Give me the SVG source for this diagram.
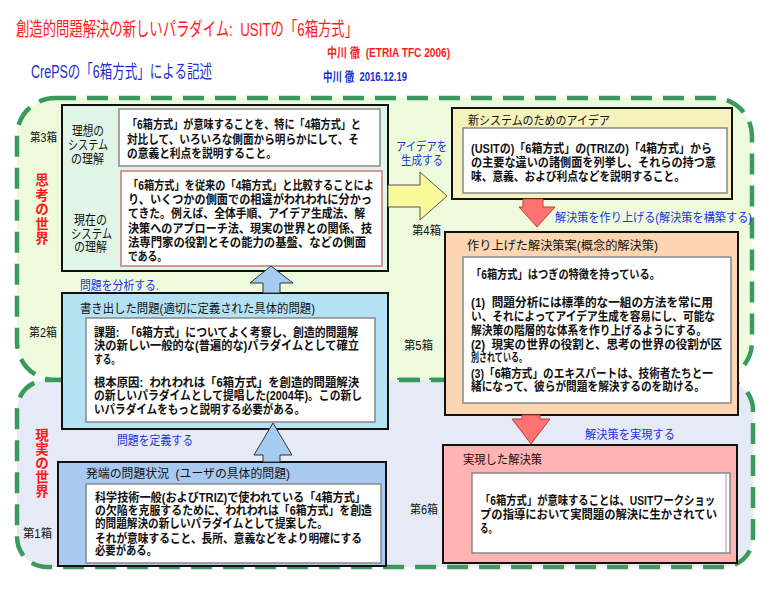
<svg xmlns="http://www.w3.org/2000/svg" width="771" height="589" viewBox="0 0 771 589">
<style>
text { font-family: "Liberation Sans", "Noto Sans CJK JP", sans-serif; }
.b { font-size:12.5px; font-weight:bold; fill:#111; }
.t { font-size:12px; fill:#111; }
.lab { font-size:13px; fill:#111; }
.no { font-size:12px; fill:#111; }
.cl { font-size:12px; fill:#2233dd; }
.world { font-size:13.5px; font-weight:bold; fill:#ff1a1a; text-anchor:middle; }
.region { stroke:#3a9a5c; stroke-width:4.5; stroke-dasharray:21 11; }
.box { stroke:#111; stroke-width:2; }
.inner { fill:#fff; stroke:#888; stroke-width:1.5; }
.arrow { stroke-width:1; }
</style>
<rect width="771" height="589" fill="#fff"/>
<g id="header">
<text x="16" y="36" font-size="19" fill="#ff1a1a" textLength="342" lengthAdjust="spacingAndGlyphs" xml:space="preserve">創造的問題解決の新しいパラダイム:  USITの「6箱方式」</text>
<text x="327" y="57" font-size="13" font-weight="bold" fill="#ff1a1a" textLength="123" lengthAdjust="spacingAndGlyphs" xml:space="preserve">中川 徹  (ETRIA TFC 2006)</text>
<text x="31" y="78" font-size="18" fill="#1a2ecc" textLength="181" lengthAdjust="spacingAndGlyphs">CrePSの「6箱方式」による記述</text>
<text x="323" y="81" font-size="13" font-weight="bold" fill="#1a2ecc" textLength="84" lengthAdjust="spacingAndGlyphs" xml:space="preserve">中川 徹  2016.12.19</text>
</g>
<g id="regions">
<rect id="thinking-world" class="region" x="17" y="98" width="735" height="282" rx="38" fill="#eefadc"/>
<rect id="real-world" class="region" x="17" y="380" width="736" height="187" rx="30" fill="#e5eaf6"/>
<g class="world">
<text x="42" y="185">思</text>
<text x="42" y="199.5">考</text>
<text x="42" y="214">の</text>
<text x="42" y="228.5">世</text>
<text x="42" y="243">界</text>
<text x="42" y="440">現</text>
<text x="42" y="454">実</text>
<text x="42" y="468">の</text>
<text x="42" y="482">世</text>
<text x="42" y="496">界</text>
</g>
</g>
<g id="box3">
<rect class="box" x="62" y="105" width="326" height="166" fill="#e0f5e5"/>
<text class="no" x="30" y="141.5" textLength="27" lengthAdjust="spacingAndGlyphs">第3箱</text>
<text class="lab" x="72" y="134.5" textLength="32" lengthAdjust="spacingAndGlyphs">理想の</text>
<text class="lab" x="68" y="148.5" textLength="40" lengthAdjust="spacingAndGlyphs">システム</text>
<text class="lab" x="71" y="162.5" textLength="33" lengthAdjust="spacingAndGlyphs">の理解</text>
<text class="lab" x="74" y="223.5" textLength="33" lengthAdjust="spacingAndGlyphs">現在の</text>
<text class="lab" x="71" y="237.5" textLength="41" lengthAdjust="spacingAndGlyphs">システム</text>
<text class="lab" x="74" y="251" textLength="33" lengthAdjust="spacingAndGlyphs">の理解</text>
<rect class="inner" x="119" y="109" width="261" height="57"/>
<text class="b" x="127" y="129" textLength="234" lengthAdjust="spacingAndGlyphs">「6箱方式」が意味することを、特に「4箱方式」と</text>
<text class="b" x="127" y="144" textLength="232" lengthAdjust="spacingAndGlyphs">対比して、いろいろな側面から明らかにして、そ</text>
<text class="b" x="127" y="158" textLength="150" lengthAdjust="spacingAndGlyphs">の意義と利点を説明すること。</text>
<rect class="inner" x="121" y="171" width="261" height="95" style="stroke:#cc7777"/>
<text class="b" x="128" y="190" textLength="246" lengthAdjust="spacingAndGlyphs">「6箱方式」を従来の「4箱方式」と比較することによ</text>
<text class="b" x="128" y="204" textLength="244" lengthAdjust="spacingAndGlyphs">り、いくつかの側面での相違がわれわれに分かっ</text>
<text class="b" x="128" y="218" textLength="237" lengthAdjust="spacingAndGlyphs">てきた。例えば、全体手順、アイデア生成法、解</text>
<text class="b" x="128" y="232.5" textLength="244" lengthAdjust="spacingAndGlyphs">決策へのアプローチ法、現実の世界との関係、技</text>
<text class="b" x="128" y="246.5" textLength="238" lengthAdjust="spacingAndGlyphs">法専門家の役割とその能力の基盤、などの側面</text>
<text class="b" x="128" y="261" textLength="39" lengthAdjust="spacingAndGlyphs">である。</text>
</g>
<g id="box4">
<rect class="box" x="452" y="108" width="280" height="91" fill="#f6f2bb"/>
<text class="t" x="468" y="124.5" textLength="142" lengthAdjust="spacingAndGlyphs">新システムのためのアイデア</text>
<rect class="inner" x="463" y="128" width="264" height="65"/>
<text class="b" x="471" y="152.7" textLength="241" lengthAdjust="spacingAndGlyphs">(USITの)「6箱方式」の(TRIZの)「4箱方式」から</text>
<text class="b" x="471" y="167" textLength="245" lengthAdjust="spacingAndGlyphs">の主要な違いの諸側面を列挙し、それらの持つ意</text>
<text class="b" x="471" y="180.7" textLength="214" lengthAdjust="spacingAndGlyphs">味、意義、および利点などを説明すること。</text>
<text class="no" x="412" y="234.5" textLength="29" lengthAdjust="spacingAndGlyphs">第4箱</text>
</g>
<g id="box5">
<rect class="box" x="445" y="232" width="293" height="183" fill="#fcd6b2"/>
<text class="t" x="467" y="249.5" textLength="191" lengthAdjust="spacingAndGlyphs">作り上げた解決策案(概念的解決策)</text>
<rect class="inner" x="463" y="257" width="268" height="146"/>
<text class="b" x="471" y="278.7" textLength="189" lengthAdjust="spacingAndGlyphs">「6箱方式」はつぎの特徴を持っている。</text>
<text class="b" x="471" y="306.7" textLength="242" lengthAdjust="spacingAndGlyphs" xml:space="preserve">(1)  問題分析には標準的な一組の方法を常に用</text>
<text class="b" x="471" y="321.2" textLength="244" lengthAdjust="spacingAndGlyphs">い、それによってアイデア生成を容易にし、可能な</text>
<text class="b" x="471" y="334.5" textLength="236" lengthAdjust="spacingAndGlyphs">解決策の階層的な体系を作り上げるようにする。</text>
<text class="b" x="471" y="348.7" textLength="251" lengthAdjust="spacingAndGlyphs" xml:space="preserve">(2)  現実の世界の役割と、思考の世界の役割が区</text>
<text class="b" x="471" y="361.7" textLength="56" lengthAdjust="spacingAndGlyphs">別されている。</text>
<text class="b" x="471" y="377.7" textLength="242" lengthAdjust="spacingAndGlyphs">(3)「6箱方式」のエキスパートは、技術者たちと一</text>
<text class="b" x="471" y="390.7" textLength="234" lengthAdjust="spacingAndGlyphs">緒になって、彼らが問題を解決するのを助ける。</text>
<text class="no" x="404" y="349.5" textLength="29" lengthAdjust="spacingAndGlyphs">第5箱</text>
</g>
<g id="box2">
<rect class="box" x="62" y="293" width="326" height="136" fill="#b5e1f5"/>
<text class="t" x="80" y="312.5" textLength="235" lengthAdjust="spacingAndGlyphs">書き出した問題(適切に定義された具体的問題)</text>
<rect class="inner" x="86" y="318" width="289" height="104"/>
<text class="b" x="94" y="336.5" textLength="264" lengthAdjust="spacingAndGlyphs" xml:space="preserve">課題:  「6箱方式」についてよく考察し、創造的問題解</text>
<text class="b" x="94" y="350.2" textLength="265" lengthAdjust="spacingAndGlyphs">決の新しい一般的な(普遍的な)パラダイムとして確立</text>
<text class="b" x="94" y="363.7" textLength="26" lengthAdjust="spacingAndGlyphs">する。</text>
<text class="b" x="94" y="386.7" textLength="265" lengthAdjust="spacingAndGlyphs" xml:space="preserve">根本原因:  われわれは「6箱方式」を創造的問題解決</text>
<text class="b" x="94" y="400.2" textLength="268" lengthAdjust="spacingAndGlyphs">の新しいパラダイムとして提唱した(2004年)。この新し</text>
<text class="b" x="94" y="414.2" textLength="211" lengthAdjust="spacingAndGlyphs">いパラダイムをもっと説明する必要がある。</text>
<text class="no" x="29" y="336.5" textLength="28" lengthAdjust="spacingAndGlyphs">第2箱</text>
</g>
<g id="box1">
<rect class="box" x="58" y="462" width="328" height="104" fill="#a8c9f0"/>
<text class="t" x="86" y="477.5" textLength="204" lengthAdjust="spacingAndGlyphs" xml:space="preserve">発端の問題状況  (ユーザの具体的問題)</text>
<rect class="inner" x="86" y="484" width="295" height="79"/>
<text class="b" x="95" y="501.7" textLength="271" lengthAdjust="spacingAndGlyphs">科学技術一般(およびTRIZ)で使われている「4箱方式」</text>
<text class="b" x="95" y="514.7" textLength="277" lengthAdjust="spacingAndGlyphs">の欠陥を克服するために、われわれは「6箱方式」を創造</text>
<text class="b" x="95" y="527.7" textLength="233" lengthAdjust="spacingAndGlyphs">的問題解決の新しいパラダイムとして提案した。</text>
<text class="b" x="95" y="542.5" textLength="267" lengthAdjust="spacingAndGlyphs">それが意味すること、長所、意義などをより明確にする</text>
<text class="b" x="95" y="555" textLength="62" lengthAdjust="spacingAndGlyphs">必要がある。</text>
<text class="no" x="23" y="537.5" textLength="29" lengthAdjust="spacingAndGlyphs">第1箱</text>
</g>
<g id="box6">
<rect class="box" x="443" y="445" width="294" height="118" fill="#ffb3b3"/>
<text class="t" x="463" y="463.5" textLength="79" lengthAdjust="spacingAndGlyphs">実現した解決策</text>
<rect class="inner" x="472" y="473" width="258" height="80"/>
<line x1="726" y1="473" x2="726" y2="553" stroke="#999" stroke-width="1"/>
<text class="b" x="480" y="504.7" textLength="235" lengthAdjust="spacingAndGlyphs">「6箱方式」が意味することは、USITワークショッ</text>
<text class="b" x="480" y="518.7" textLength="237" lengthAdjust="spacingAndGlyphs">プの指導において実問題の解決に生かされてい</text>
<text class="b" x="480" y="532.7" textLength="17" lengthAdjust="spacingAndGlyphs">る。</text>
<text class="no" x="410" y="513.5" textLength="28" lengthAdjust="spacingAndGlyphs">第6箱</text>
</g>
<g id="connectors">
<polygon class="arrow" points="388,185 420,185 420,172 447,196 420,220 420,207 388,207" fill="#fafa9a" stroke="#555"/>
<polygon class="arrow" points="523,199 543,199 543,207 555,207 537,227 519,207 523,207" fill="#ff7272" stroke="#c04040"/>
<polygon class="arrow" points="522,415 540,415 540,419 550,419 531,444 512,419 522,419" fill="#ff7272" stroke="#c04040"/>
<polygon class="arrow" points="263,293 263,283 250,283 271,266 293,283 280,283 280,293" fill="#a4ccf0" stroke="#333"/>
<polygon class="arrow" points="263,462 263,455 254,455 273,423 292,455 280,455 280,462" fill="#a4ccf0" stroke="#333"/>
<text class="cl" x="396" y="151" textLength="51" lengthAdjust="spacingAndGlyphs">アイデアを</text>
<text class="cl" x="401" y="164.5" textLength="42" lengthAdjust="spacingAndGlyphs">生成する</text>
<text class="cl" x="555" y="221.5" textLength="197" lengthAdjust="spacingAndGlyphs">解決策を作り上げる(解決策を構築する)</text>
<text class="cl" x="80" y="289.5" textLength="79" lengthAdjust="spacingAndGlyphs">問題を分析する.</text>
<text class="cl" x="117" y="444.5" textLength="76" lengthAdjust="spacingAndGlyphs">問題を定義する</text>
<text class="cl" x="585" y="438.5" textLength="90" lengthAdjust="spacingAndGlyphs">解決策を実現する</text>
</g>
</svg>
